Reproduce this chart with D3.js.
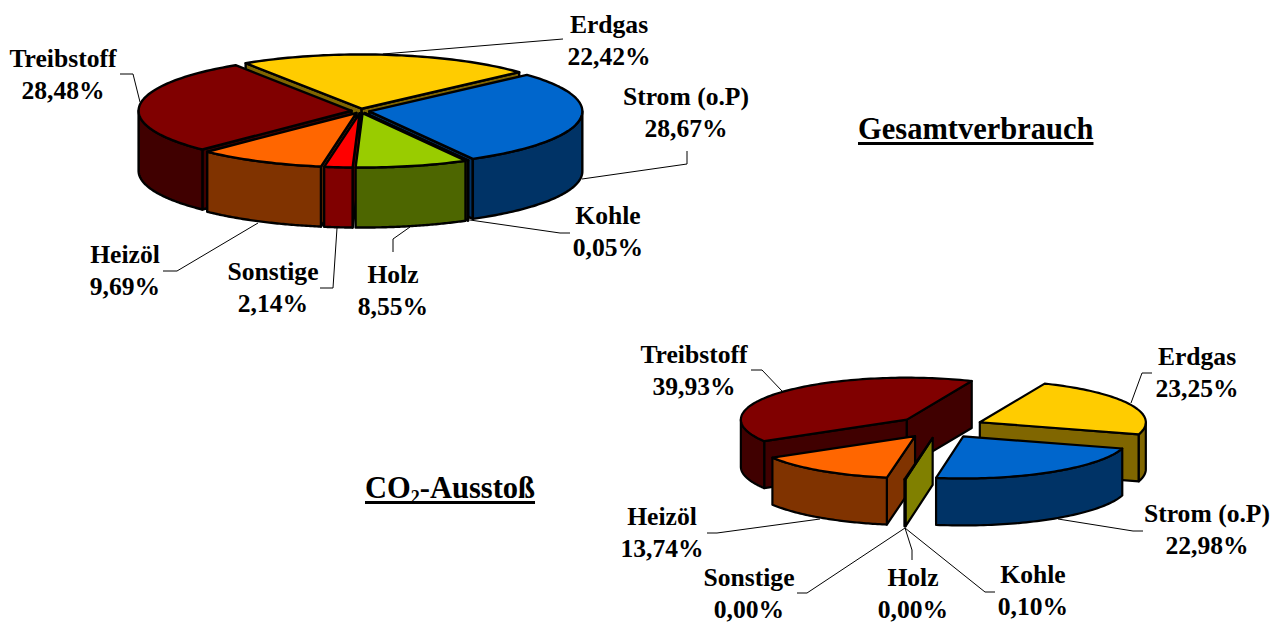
<!DOCTYPE html>
<html><head><meta charset="utf-8">
<script src="https://cdn.jsdelivr.net/npm/d3@7"></script>
<style>html,body{margin:0;padding:0;background:#fff;overflow:hidden}
text{font-family:"Liberation Serif","Times New Roman",serif;font-weight:bold;fill:#000}</style>
</head><body><svg id="c" width="1271" height="624"></svg>
<script>
const categories = ["Erdgas","Strom (o.P)","Kohle","Holz","Sonstige","Heizöl","Treibstoff"];
const totalValues = [22.42,28.67,0.05,8.55,2.14,9.69,28.48];
const co2Values   = [23.25,22.98,0.10,0.00,0.00,13.74,39.93];
const topColors  = ["#FFCC00","#0066CC","#FFFF00","#99CC00","#FF0000","#FF6600","#800000"];
const wallColors = ["#806600","#003366","#808000","#4D6600","#800000","#803300","#400000"];
const titleTotal = "Gesamtverbrauch";

const fmt = v => v.toFixed(2).replace(".",",")+"%";
const svg = d3.select("#c");
const line = d3.line();
const closed = d3.line().curve(d3.curveLinearClosed);
const rad = d => d*Math.PI/180;

// painter's order: the further a slice's nearest edge lies from the front (180 deg), the earlier it is drawn
function frontDistance(a){
  const f=Math.PI;
  const s=((a.startAngle%(2*Math.PI))+2*Math.PI)%(2*Math.PI);
  const e=s+(a.endAngle-a.startAngle);
  if(s<=f && e>=f) return 0;
  return Math.min(Math.abs(s-f),Math.abs(e-f),Math.abs(e-2*Math.PI-f));
}

function pie3d(values, o){
  const x = d3.scaleLinear().domain([-1,1]).range([o.cx-o.rx,o.cx+o.rx]);
  const y = d3.scaleLinear().domain([-1,1]).range([o.cy-o.ry,o.cy+o.ry]);
  const arcs = d3.pie().sort(null).value(d=>d).startAngle(rad(o.start)).endAngle(rad(o.start)+2*Math.PI)(values);
  const g = svg.append("g").attr("stroke","#000").attr("stroke-width",o.sw).attr("stroke-linejoin","round");
  const slices = arcs.map(a=>({a,mid:(a.startAngle+a.endAngle)/2}))
    .filter(s=>s.a.value>0)
    .sort((p,q)=>frontDistance(q.a)-frontDistance(p.a));
  slices.forEach(s=>{
    const i=s.a.index, ex=o.explode*Math.sin(s.mid), ey=-o.explode*Math.cos(s.mid);
    const P=t=>[x(ex+Math.sin(t)),y(ey-Math.cos(t))];
    const C=[x(ex),y(ey)];
    const dn=p=>[p[0],p[1]+o.depth];
    const wall=wallColors[i], top=topColors[i];
    const t0=s.a.startAngle,t1=s.a.endAngle;
    const face=(pts)=>g.append("path").attr("d",closed(pts));
    if(Math.sin(t0)<0) face([C,P(t0),dn(P(t0)),dn(C)]).attr("fill",wall);
    if(Math.sin(t1)>0) face([C,P(t1),dn(P(t1)),dn(C)]).attr("fill",wall);
    [[rad(90),rad(270)],[rad(450),rad(630)]].forEach(([f0,f1])=>{
      const a0=Math.max(t0,f0),a1=Math.min(t1,f1);
      if(a1>a0){
        const ts=d3.range(0,61).map(k=>a0+(a1-a0)*k/60);
        const upper=ts.map(P), lower=ts.map(P).map(dn).reverse();
        face(upper.concat(lower)).attr("fill",wall);
      }
    });
    const n=Math.max(2,Math.ceil((t1-t0)*40));
    const rim=d3.range(0,n+1).map(k=>P(t0+(t1-t0)*k/n));
    face([C].concat(rim)).attr("fill",top);
  });
}

pie3d(totalValues,{cx:360.5,cy:111,rx:213,ry:54.3,depth:60,start:-33,explode:0.042,sw:2.4});
pie3d(co2Values,{cx:940,cy:427,rx:166,ry:42,depth:47,start:23,explode:0.265,sw:2.2});

const leaders = [
 [[383,54],[563,39]],
 [[582,179],[687,164],[687,151]],
 [[470,220],[560,233],[570,233]],
 [[410,227],[393,239],[393,252]],
 [[337,228],[333,288],[320,288]],
 [[258,223],[177,271],[163,271]],
 [[140,102],[133,74],[120,74]],
 [[1131,403],[1142,373],[1152,373]],
 [[1058,519],[1133,531],[1143,531]],
 [[905,528],[985,592],[995,592]],
 [[905,528],[912,550],[912,560]],
 [[905,528],[807,593],[797,593]],
 [[820,519],[717,533],[707,533]],
 [[782,391],[762,370],[751,370]]
];
svg.append("g").attr("fill","none").attr("stroke","#000").attr("stroke-width",1)
  .selectAll("path").data(leaders).join("path").attr("d",d=>line(d));

const totalLabelPos=[[609,33],[686,105],[608,224],[393,283],[273,280],[125,263],[63,67]];
const co2LabelPos=[[1197,365],[1207,522],[1033,583],[913,586],[749,586],[662,525],[694,363]];
function labels(values,pos){
  values.forEach((v,i)=>{
    const t=svg.append("text").attr("text-anchor","middle").attr("font-size",25.6);
    t.append("tspan").attr("x",pos[i][0]).attr("y",pos[i][1]).text(categories[i]);
    t.append("tspan").attr("x",pos[i][0]).attr("y",pos[i][1]+32).text(fmt(v));
  });
}
labels(totalValues,totalLabelPos);
labels(co2Values,co2LabelPos);

function underline(t,x,y){
  svg.append("line").attr("x1",x).attr("x2",x+t.node().getComputedTextLength())
    .attr("y1",y+4.5).attr("y2",y+4.5).attr("stroke","#000").attr("stroke-width",3);
}
const t1=svg.append("text").attr("x",858).attr("y",139).attr("font-size",30.5).text(titleTotal);
underline(t1,858,139);
const co2=svg.append("text").attr("x",365).attr("y",498).attr("font-size",30.5);
co2.append("tspan").text("CO");
co2.append("tspan").attr("font-size",18).attr("dy",5).text("2");
co2.append("tspan").attr("dy",-5).text("-Ausstoß");
underline(co2,365,498);
</script></body></html>
